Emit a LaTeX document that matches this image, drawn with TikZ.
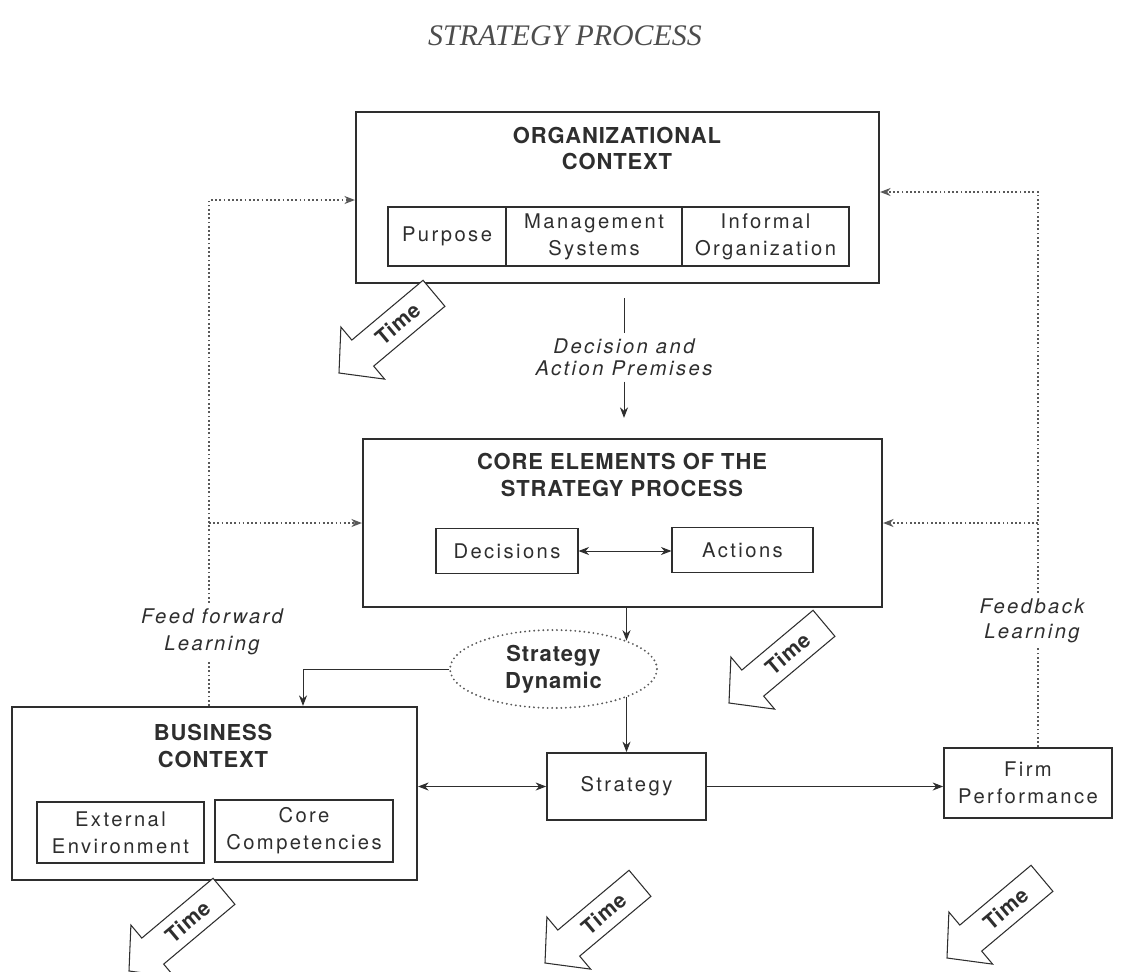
\documentclass[tikz,border=0pt]{standalone}
\usepackage{fontspec}
\usetikzlibrary{shapes.geometric,arrows.meta}
\newfontfamily\labfont[LetterSpace=12]{TeX Gyre Heros}
\newfontfamily\headfont[LetterSpace=4]{TeX Gyre Heros}
\newfontfamily\titlefont{Liberation Serif}
\definecolor{ink}{gray}{0.18}
\definecolor{dotc}{gray}{0.35}
\begin{document}
\begin{tikzpicture}[x=0.02cm, y=-0.02cm,
  lbl/.style={font={\labfont\fontsize{11.5}{15.5}\selectfont}, text=ink, align=center, inner sep=0pt},
  itl/.style={font={\labfont\itshape\fontsize{11.5}{#1}\selectfont}, text=ink, align=center, inner sep=3pt},
  itl/.default=15,
  head/.style={font={\headfont\bfseries\fontsize{12.5}{#1}\selectfont}, text=ink, align=center, inner sep=0pt},
  head/.default=15.3,
  titlestyle/.style={font={\titlefont\itshape\fontsize{17}{20}\selectfont}, text=ink!85, inner sep=0pt},
  bigbox/.style={draw=ink, line width=1.3pt, inner sep=0pt},
  midbox/.style={lbl, draw=ink, line width=1.0pt},
  smallbox/.style={lbl, draw=ink, line width=0.6pt},
  sdynstyle/.style={ellipse, draw=dotc, line width=1.2pt, dash pattern=on 0pt off 2.6pt, line cap=round,
     inner sep=0pt, minimum width=4.14cm, minimum height=1.56cm, head=15.3},
  conn/.style={draw=ink, line width=0.55pt},
  arr/.style={conn, -{Stealth[length=6pt,width=4.6pt]}},
  darr/.style={conn, {Stealth[length=6pt,width=4.6pt]}-{Stealth[length=6pt,width=4.6pt]}},
  dotl/.style={draw=dotc, line width=0.75pt, dash pattern=on 1pt off 1.4pt},
  dotarr/.style={dotl, -{Stealth[length=6pt,width=4.6pt]}},
  tshape/.style={draw=ink, fill=white, line width=0.6pt, line join=miter},
  tlabel/.style={font={\headfont\bfseries\fontsize{12}{14}\selectfont}, text=ink, inner sep=0pt},
  timeblock/.pic={
    \draw[tshape] (0,0) -- (31,34) -- (31,17) -- (124,17) -- (124,-17) -- (31,-17) -- (31,-34) -- cycle;
    \node[tlabel, transform shape] (-lbl) at (77,0) {Time};
  }
]
\useasboundingbox (0,0) rectangle (1130,971);
\clip (0,0) rectangle (1130,971);

% title
\node[titlestyle] (title) at (565,36) {STRATEGY PROCESS};

% organizational context
\node[bigbox, minimum width=10.46cm, minimum height=3.42cm] (org) at (617.5,197.5) {};
\node[head] (orgt) at (617,148.5) {ORGANIZATIONAL\\CONTEXT};
\node[smallbox, minimum width=2.36cm, minimum height=1.18cm] (purp) at (447,236.5) {Purpose};
\node[smallbox, minimum width=3.52cm, minimum height=1.18cm] (mgmt) at (594,236.5) {Management\\Systems};
\node[smallbox, minimum width=3.34cm, minimum height=1.18cm] (info) at (765.5,236.5) {Informal\\Organization};

% premises
\node[itl=12.5] (prem) at (624,357.5) {Decision and\\Action Premises};

% core elements
\node[bigbox, minimum width=10.38cm, minimum height=3.36cm] (core) at (622.5,523) {};
\node[head=15] (coret) at (622,475) {CORE ELEMENTS OF THE\\STRATEGY PROCESS};
\node[smallbox, minimum width=2.84cm, minimum height=0.9cm] (dec) at (507,551) {Decisions};
\node[smallbox, minimum width=2.82cm, minimum height=0.9cm] (act) at (742.5,550) {Actions};

% strategy dynamic
\node[sdynstyle] (sdyn) at (553.5,669) {Strategy\\Dynamic};

% business context
\node[bigbox, minimum width=8.1cm, minimum height=3.46cm] (bus) at (214.5,793.5) {};
\node[head=15.6] (bust) at (213,746) {BUSINESS\\CONTEXT};
\node[smallbox, minimum width=3.34cm, minimum height=1.22cm] (ext) at (120.5,832.5) {External\\Environment};
\node[smallbox, minimum width=3.56cm, minimum height=1.24cm] (ccomp) at (304,831) {Core\\Competencies};

% strategy and performance
\node[midbox, minimum width=3.18cm, minimum height=1.34cm] (strat) at (626.5,786.5) {Strategy};
\node[midbox, minimum width=3.36cm, minimum height=1.4cm] (firm) at (1028,783) {Firm\\Performance};

% learning labels
\node[itl=15.3] (ffl) at (212,631.5) {Feed forward\\Learning};
\node[itl=14.2] (fbl) at (1032,620.5) {Feedback\\Learning};
\coordinate (ffc) at (209,200);
\coordinate (fbc) at (1038,192);
\coordinate (bturn) at (303,669);

% solid connectors
\draw[conn, shorten <=0.28cm] (org.south -| prem.north) -- (prem.north);
\draw[arr, shorten >=0.4cm] (prem.south) -- (prem.south |- core.north);
\draw[darr] (dec.east) -- (act.west |- dec.east);
\draw[arr] (strat.north |- core.south) -- (strat.north |- sdyn.21);
\draw[arr] (strat.north |- sdyn.-21) -- (strat.north);
\draw[arr] (sdyn.west) -- (bturn) -- (bturn |- bus.north);
\draw[darr] (bus.east |- strat.west) -- (strat.west);
\draw[arr] (strat.east) -- (strat.east -| firm.west);

% dotted learning loops
\draw[dotl] (ffc |- bus.north) -- (ffc |- ffl.south);
\draw[dotarr] (ffc |- ffl.north) -- (ffc) -- (ffc -| org.west);
\draw[dotarr] (ffc |- core.west) -- (core.west);
\draw[dotl] (fbc |- firm.north) -- (fbc |- fbl.south);
\draw[dotarr] (fbc |- fbl.north) -- (fbc) -- (fbc -| org.east);
\draw[dotarr] (fbc |- core.east) -- (core.east);

% time arrows
\pic[rotate=40] (ta) at (339,373) {timeblock};
\pic[rotate=40] (tb) at (729,703) {timeblock};
\pic[rotate=40] (tc) at (129,971) {timeblock};
\pic[rotate=40] (td) at (545,963) {timeblock};
\pic[rotate=40] (te) at (947,958) {timeblock};
\end{tikzpicture}
\end{document}
